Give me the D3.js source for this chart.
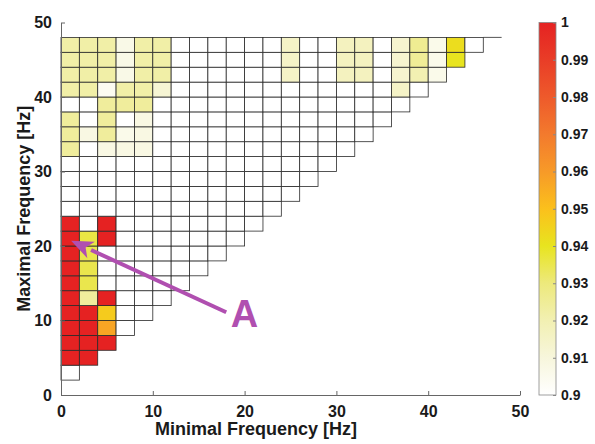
<!DOCTYPE html>
<html>
<head>
<meta charset="utf-8">
<script src="https://cdn.jsdelivr.net/npm/d3@7"></script>
<style>
  html, body { margin: 0; padding: 0; background: #fff; }
  svg { display: block; font-family: "Liberation Sans", Arial, sans-serif; }
</style>
</head>
<body>
<svg id="chart" width="595" height="444"></svg>
<script>
// Band width of each frequency bin (Hz)
const binWidth = 2;

// Maximal frequency of each row (lower edge of the bin, Hz)
const maxFreqRows = [2, 4, 6, 8, 10, 12, 14, 16, 18, 20, 22, 24, 26, 28, 30, 32, 34, 36, 38, 40, 42, 44, 46];

// Coherence per row; entry k is the bin starting at minimal frequency k * binWidth
const coherence = [
  [0.90],
  [1.00, 1.00],
  [1.00, 1.00, 1.00],
  [1.00, 1.00, 0.957, 0.90],
  [1.00, 1.00, 0.947, 0.90, 0.90],
  [1.00, 0.924, 1.00, 0.90, 0.90, 0.90],
  [1.00, 0.935, 0.90, 0.90, 0.90, 0.90, 0.90],
  [1.00, 0.935, 0.90, 0.90, 0.90, 0.90, 0.90, 0.90],
  [1.00, 0.935, 0.90, 0.90, 0.90, 0.90, 0.90, 0.90, 0.90],
  [1.00, 0.936, 1.00, 0.90, 0.90, 0.90, 0.90, 0.90, 0.90, 0.90],
  [1.00, 0.90, 1.00, 0.90, 0.90, 0.90, 0.90, 0.90, 0.90, 0.90, 0.90],
  [0.90, 0.90, 0.90, 0.90, 0.90, 0.90, 0.90, 0.90, 0.90, 0.90, 0.90, 0.90],
  [0.90, 0.90, 0.90, 0.90, 0.90, 0.90, 0.90, 0.90, 0.90, 0.90, 0.90, 0.90, 0.90],
  [0.90, 0.90, 0.90, 0.90, 0.90, 0.90, 0.90, 0.90, 0.90, 0.90, 0.90, 0.90, 0.90, 0.90],
  [0.90, 0.90, 0.90, 0.90, 0.90, 0.90, 0.90, 0.90, 0.90, 0.90, 0.90, 0.90, 0.90, 0.90, 0.90],
  [0.924, 0.90, 0.908, 0.908, 0.908, 0.90, 0.90, 0.90, 0.90, 0.90, 0.90, 0.90, 0.90, 0.90, 0.90, 0.90],
  [0.924, 0.908, 0.924, 0.906, 0.908, 0.90, 0.90, 0.90, 0.90, 0.90, 0.90, 0.90, 0.90, 0.90, 0.90, 0.90, 0.90],
  [0.924, 0.90, 0.924, 0.90, 0.908, 0.90, 0.90, 0.90, 0.90, 0.90, 0.90, 0.90, 0.90, 0.90, 0.90, 0.90, 0.90, 0.90],
  [0.90, 0.90, 0.924, 0.924, 0.924, 0.90, 0.90, 0.90, 0.90, 0.90, 0.90, 0.90, 0.90, 0.90, 0.90, 0.90, 0.90, 0.90, 0.90],
  [0.922, 0.922, 0.904, 0.922, 0.922, 0.912, 0.90, 0.90, 0.90, 0.90, 0.90, 0.90, 0.90, 0.90, 0.90, 0.90, 0.90, 0.90, 0.915, 0.90],
  [0.922, 0.922, 0.922, 0.907, 0.922, 0.922, 0.90, 0.90, 0.90, 0.90, 0.90, 0.90, 0.915, 0.90, 0.90, 0.917, 0.917, 0.90, 0.913, 0.920, 0.906],
  [0.922, 0.922, 0.922, 0.907, 0.922, 0.922, 0.90, 0.90, 0.90, 0.90, 0.90, 0.90, 0.915, 0.90, 0.90, 0.917, 0.917, 0.90, 0.913, 0.925, 0.906, 0.940],
  [0.922, 0.922, 0.922, 0.907, 0.922, 0.922, 0.90, 0.90, 0.90, 0.90, 0.90, 0.90, 0.915, 0.90, 0.90, 0.917, 0.917, 0.90, 0.913, 0.926, 0.906, 0.942, 0.90]
];

// Axis ticks
const axisTicks = [0, 10, 20, 30, 40, 50];
const colorTicks = [0.9, 0.91, 0.92, 0.93, 0.94, 0.95, 0.96, 0.97, 0.98, 0.99, 1];

// Colormap: white -> yellow -> orange -> red
const cmapStops = [0.90, 0.91, 0.92, 0.93, 0.94, 0.95, 0.96, 0.97, 0.98, 0.99, 1.00];
const cmapColors = ["#ffffff", "#f7f6dc", "#f2f0b2", "#ede97c", "#e8e41f", "#fbc01c", "#f79a28", "#f37a2d", "#ee5a2b", "#e93d27", "#e52222"];

// Annotation arrow (data coordinates)
const arrowTip = [1.1, 20.7];
const arrowTail = [18.0, 11.1];
const labelPos = [20.0, 9.1];
const labelText = "A";

const svg = d3.select("#chart");

const x = d3.scaleLinear().domain([0, 50]).range([61, 520]);
const y = d3.scaleLinear().domain([0, 50]).range([395, 22.5]);
const color = d3.scaleLinear().domain(cmapStops).range(cmapColors).clamp(true);

// Flatten rows into cells
const cells = [];
maxFreqRows.forEach((fmax, r) => {
  coherence[r].forEach((v, k) => {
    cells.push({ fmin: k * binWidth, fmax: fmax, v: v });
  });
});

const grid = svg.append("g");
grid.selectAll("rect")
  .data(cells)
  .join("rect")
  .attr("x", d => x(d.fmin))
  .attr("y", d => y(d.fmax + binWidth))
  .attr("width", d => x(d.fmin + binWidth) - x(d.fmin))
  .attr("height", d => y(d.fmax) - y(d.fmax + binWidth))
  .attr("fill", d => color(d.v))
  .attr("stroke", "#2a2a2a")
  .attr("stroke-width", 0.8);

// Top edge of the grid continues one bin past the last cell
const topRow = maxFreqRows[maxFreqRows.length - 1];
grid.append("line")
  .attr("x1", x(topRow)).attr("x2", x(topRow + binWidth))
  .attr("y1", y(topRow + binWidth)).attr("y2", y(topRow + binWidth))
  .attr("stroke", "#2a2a2a").attr("stroke-width", 0.8);

// Axes
const axisColor = "#666";
const xAxis = svg.append("g")
  .attr("transform", `translate(0,${y(0)})`)
  .call(d3.axisBottom(x).tickValues(axisTicks).tickSizeInner(-4).tickSizeOuter(0).tickPadding(8));
const yAxis = svg.append("g")
  .attr("transform", `translate(${x(0)},0)`)
  .call(d3.axisLeft(y).tickValues(axisTicks).tickSizeInner(-4).tickSizeOuter(0).tickPadding(9));

[xAxis, yAxis].forEach(g => {
  g.select(".domain").attr("stroke", axisColor).attr("stroke-width", 1);
  g.selectAll(".tick line").attr("stroke", axisColor);
  g.selectAll(".tick text")
    .attr("fill", "#1a1a1a")
    .attr("font-size", 16)
    .attr("font-weight", "bold")
    .attr("font-family", "Liberation Sans, Arial, sans-serif");
});
xAxis.selectAll(".tick text").attr("dy", "0.85em");

// Axis titles
svg.append("text")
  .attr("x", 256).attr("y", 435)
  .attr("text-anchor", "middle")
  .attr("font-size", 18).attr("font-weight", "bold")
  .attr("fill", "#1a1a1a")
  .text("Minimal Frequency [Hz]");

svg.append("text")
  .attr("transform", `translate(30,${(y(0) + y(50)) / 2}) rotate(-90)`)
  .attr("text-anchor", "middle")
  .attr("font-size", 18).attr("font-weight", "bold")
  .attr("fill", "#1a1a1a")
  .text("Maximal Frequency [Hz]");

// Colorbar
const cb = { x: 539, w: 17 };
const cy = d3.scaleLinear().domain([0.9, 1]).range([395, 22.5]);
const defs = svg.append("defs");
const grad = defs.append("linearGradient")
  .attr("id", "cmap")
  .attr("x1", 0).attr("y1", 1).attr("x2", 0).attr("y2", 0);
grad.selectAll("stop")
  .data(cmapStops)
  .join("stop")
  .attr("offset", d => (d - 0.9) / 0.1)
  .attr("stop-color", (d, i) => cmapColors[i]);

svg.append("rect")
  .attr("x", cb.x).attr("y", cy(1))
  .attr("width", cb.w).attr("height", cy(0.9) - cy(1))
  .attr("fill", "url(#cmap)")
  .attr("stroke", "#888").attr("stroke-width", 0.8);

const cAxis = svg.append("g")
  .attr("transform", `translate(${cb.x + cb.w},0)`)
  .call(d3.axisRight(cy).tickValues(colorTicks).tickFormat(d3.format("~g")).tickSizeInner(-3).tickSizeOuter(0).tickPadding(5));
cAxis.select(".domain").remove();
cAxis.selectAll(".tick line").attr("stroke", "#888");
cAxis.selectAll(".tick text")
  .attr("fill", "#1a1a1a")
  .attr("font-size", 14)
  .attr("font-weight", "bold")
  .attr("font-family", "Liberation Sans, Arial, sans-serif");

// Annotation arrow
const purple = "#b04fb0";
const tx = x(arrowTip[0]), ty = y(arrowTip[1]);
const sx = x(arrowTail[0]), sy = y(arrowTail[1]);
const ang = Math.atan2(ty - sy, tx - sx);
const headLen = 22, headHalf = 9;
const bx = tx - headLen * Math.cos(ang), by = ty - headLen * Math.sin(ang);
svg.append("line")
  .attr("x1", sx).attr("y1", sy).attr("x2", bx).attr("y2", by)
  .attr("stroke", purple).attr("stroke-width", 4);
svg.append("path")
  .attr("d", d3.line()([
    [tx, ty],
    [bx + headHalf * Math.sin(ang), by - headHalf * Math.cos(ang)],
    [tx - (headLen - 6) * Math.cos(ang), ty - (headLen - 6) * Math.sin(ang)],
    [bx - headHalf * Math.sin(ang), by + headHalf * Math.cos(ang)]
  ]) + "Z")
  .attr("fill", purple);

svg.append("text")
  .attr("x", x(labelPos[0])).attr("y", y(labelPos[1]))
  .attr("text-anchor", "middle")
  .attr("font-size", 38).attr("font-weight", "bold")
  .attr("fill", purple)
  .text(labelText);
</script>
</body>
</html>
